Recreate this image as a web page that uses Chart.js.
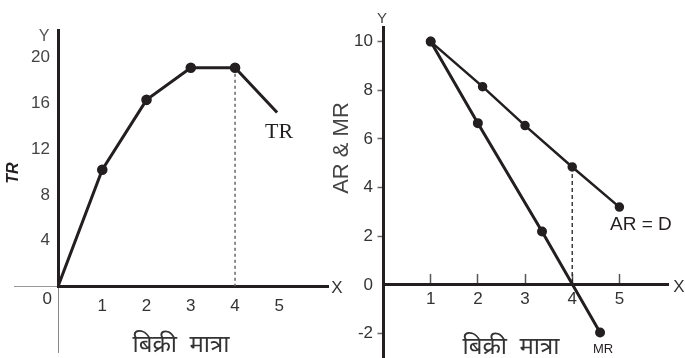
<!DOCTYPE html>
<html>
<head>
<meta charset="utf-8">
<script src="https://cdn.jsdelivr.net/npm/chart.js@4.4.1/dist/chart.umd.min.js"></script>
<style>
  html, body { margin: 0; padding: 0; background: #ffffff; }
  #wrap { position: relative; width: 685px; height: 358px; overflow: hidden; }
  canvas { position: absolute; left: 0; top: 0; }
</style>
</head>
<body>
<div id="wrap">
  <canvas id="left" width="685" height="358"></canvas>
  <canvas id="right" width="685" height="358"></canvas>
</div>
<script>
// ---------- DATA ----------
// Left chart: Total Revenue
const trQuantity = [0, 1, 2, 3, 4, 4.95];
const trValues   = [0, 10.2, 16.3, 19.1, 19.1, 15.2];
const trMarkers  = [false, true, true, true, true, false];
const leftXTicks = [0, 1, 2, 3, 4, 5];
const leftYTicks = [0, 4, 8, 12, 16, 20];

// Right chart: Average Revenue (= Demand) and Marginal Revenue
const arQuantity = [1, 2.1, 3, 4, 5];
const arValues   = [10, 8.15, 6.55, 4.85, 3.2];
const mrQuantity = [1, 2, 3.36, 4.59];
const mrValues   = [10, 6.65, 2.2, -1.95];
const rightXTicks = [1, 2, 3, 4, 5];
const rightYTicks = [-2, 0, 2, 4, 6, 8, 10];

// ---------- helpers ----------
const INK = '#231f20';
const TICK_FONT = { family: "'Liberation Sans', Arial, sans-serif", size: 17 };
const DEVA = "'Noto Sans Devanagari', 'Lohit Devanagari', 'Mangal', 'FreeSans', sans-serif";
const pts = (xs, ys) => xs.map((x, i) => ({ x: x, y: ys[i] }));
const setTicks = arr => scale => { scale.ticks = arr.map(v => ({ value: v })); };
const fixWidth = w => scale => { scale.width = w; scale.paddingTop = 0; scale.paddingBottom = 0; };

const textPlugin = {
  id: 'textLabels',
  afterDraw(chart, args, opts) {
    const ctx = chart.ctx;
    (opts.items || []).forEach(it => {
      ctx.save();
      ctx.font = it.font;
      ctx.fillStyle = it.color || INK;
      ctx.textAlign = it.align || 'left';
      ctx.textBaseline = it.baseline || 'alphabetic';
      ctx.translate(it.x, it.y);
      if (it.rotate) ctx.rotate(it.rotate);
      ctx.fillText(it.text, 0, 0);
      ctx.restore();
    });
  }
};

// ---------- LEFT CHART ----------
new Chart(document.getElementById('left'), {
  type: 'line',
  data: {
    datasets: [
      {
        data: pts(trQuantity, trValues),
        borderColor: INK,
        borderWidth: 3,
        pointRadius: trMarkers.map(m => m ? 3.8 : 0),
        pointBackgroundColor: INK,
        pointBorderColor: INK,
        tension: 0
      },
      {
        data: pts([trQuantity[4], trQuantity[4]], [trValues[4], 0]),
        borderColor: '#666',
        borderWidth: 1.5,
        borderDash: [3, 3],
        pointRadius: 0
      }
    ]
  },
  options: {
    responsive: false,
    animation: false,
    devicePixelRatio: 1,
    layout: { autoPadding: false, padding: { left: 18, right: 357, top: 30, bottom: 71.5 } },
    plugins: {
      legend: { display: false },
      tooltip: { enabled: false },
      textLabels: {
        items: [
          { text: 'Y', x: 44, y: 37, font: "16px 'Liberation Sans', Arial", color: '#555', align: 'center', baseline: 'middle' },
          { text: 'X', x: 337, y: 288, font: "17px 'Liberation Sans', Arial", color: '#333', align: 'center', baseline: 'middle' },
          { text: '0', x: 52, y: 299, font: "17px 'Liberation Sans', Arial", color: '#333', align: 'right', baseline: 'middle' },
          { text: 'TR', x: 265, y: 138, font: "22px 'Liberation Serif', 'Times New Roman', serif", color: INK },
          { text: 'TR', x: 14, y: 173, font: "italic bold 16px 'Liberation Sans', Arial", color: INK, align: 'center', baseline: 'middle', rotate: -Math.PI / 2 },
          { text: 'बिक्री  मात्रा', x: 181, y: 352, font: "24px " + DEVA, color: '#333', align: 'center' }
        ]
      }
    },
    scales: {
      x: {
        type: 'linear', min: 0, max: 6.1,
        position: { y: 0 },
        afterBuildTicks: setTicks(leftXTicks),
        border: { display: true, color: INK, width: 3 },
        grid: {
          drawOnChartArea: false, drawTicks: true, tickLength: 65, tickWidth: 1,
          tickColor: c => (c.tick && c.tick.value === 0) ? '#888' : 'rgba(0,0,0,0)'
        },
        ticks: { padding: -55, font: TICK_FONT, color: '#333', callback: v => v === 0 ? '' : String(v), maxRotation: 0, autoSkip: false }
      },
      y: {
        type: 'linear', min: 0, max: 22.4,
        position: 'left',
        afterBuildTicks: setTicks(leftYTicks),
        afterFit: fixWidth(40),
        border: { display: true, color: INK, width: 3 },
        grid: {
          drawOnChartArea: false, drawTicks: true, tickLength: 44, tickWidth: 1,
          tickColor: c => (c.tick && c.tick.value === 0) ? '#999' : 'rgba(0,0,0,0)'
        },
        ticks: { padding: -36, font: TICK_FONT, color: '#444', callback: v => v === 0 ? '' : String(v), autoSkip: false }
      }
    }
  },
  plugins: [textPlugin]
});

// ---------- RIGHT CHART ----------
new Chart(document.getElementById('right'), {
  type: 'line',
  data: {
    datasets: [
      {
        data: pts(arQuantity, arValues),
        borderColor: INK, borderWidth: 2.5,
        pointRadius: 3.5, pointBackgroundColor: INK, pointBorderColor: INK,
        tension: 0
      },
      {
        data: pts(mrQuantity, mrValues),
        borderColor: INK, borderWidth: 3,
        pointRadius: 3.5, pointBackgroundColor: INK, pointBorderColor: INK,
        tension: 0
      },
      {
        data: pts([arQuantity[3], arQuantity[3]], [arValues[3], 0]),
        borderColor: INK, borderWidth: 1.3, borderDash: [4, 3],
        pointRadius: 0
      }
    ]
  },
  options: {
    responsive: false,
    animation: false,
    devicePixelRatio: 1,
    layout: { autoPadding: false, padding: { left: 343.5, right: 17, top: 27, bottom: 0 } },
    plugins: {
      legend: { display: false },
      tooltip: { enabled: false },
      textLabels: {
        items: [
          { text: 'Y', x: 382, y: 19, font: "15px 'Liberation Sans', Arial", color: '#444', align: 'center', baseline: 'middle' },
          { text: 'X', x: 679, y: 287, font: "17px 'Liberation Sans', Arial", color: '#333', align: 'center', baseline: 'middle' },
          { text: 'AR = D', x: 610, y: 230, font: "19px 'Liberation Sans', Arial", color: INK },
          { text: 'MR', x: 593, y: 353, font: "13px 'Liberation Sans', Arial", color: INK },
          { text: 'AR & MR', x: 342, y: 148, font: "22px 'Liberation Sans', Arial", color: '#444', align: 'center', baseline: 'middle', rotate: -Math.PI / 2 },
          { text: 'बिक्री  मात्रा', x: 511, y: 354, font: "24px " + DEVA, color: '#333', align: 'center' }
        ]
      }
    },
    scales: {
      x: {
        type: 'linear', min: 0, max: 6.03,
        position: { y: 0 },
        afterBuildTicks: setTicks(rightXTicks),
        border: { display: true, color: INK, width: 3 },
        grid: { drawOnChartArea: false, drawTicks: true, tickLength: -12, tickWidth: 1.5, tickColor: '#555' },
        ticks: { padding: 16, font: TICK_FONT, color: '#333', maxRotation: 0, autoSkip: false }
      },
      y: {
        type: 'linear', min: -3.0, max: 10.6,
        position: 'left',
        afterBuildTicks: setTicks(rightYTicks),
        afterFit: fixWidth(40),
        border: { display: true, color: INK, width: 3 },
        grid: {
          drawOnChartArea: false, drawTicks: true, tickLength: 6, tickWidth: 1.5,
          tickColor: c => (c.tick && c.tick.value === 0) ? 'rgba(0,0,0,0)' : '#666'
        },
        ticks: { padding: 4.5, font: TICK_FONT, color: '#333', autoSkip: false }
      }
    }
  },
  plugins: [textPlugin]
});
</script>
</body>
</html>
